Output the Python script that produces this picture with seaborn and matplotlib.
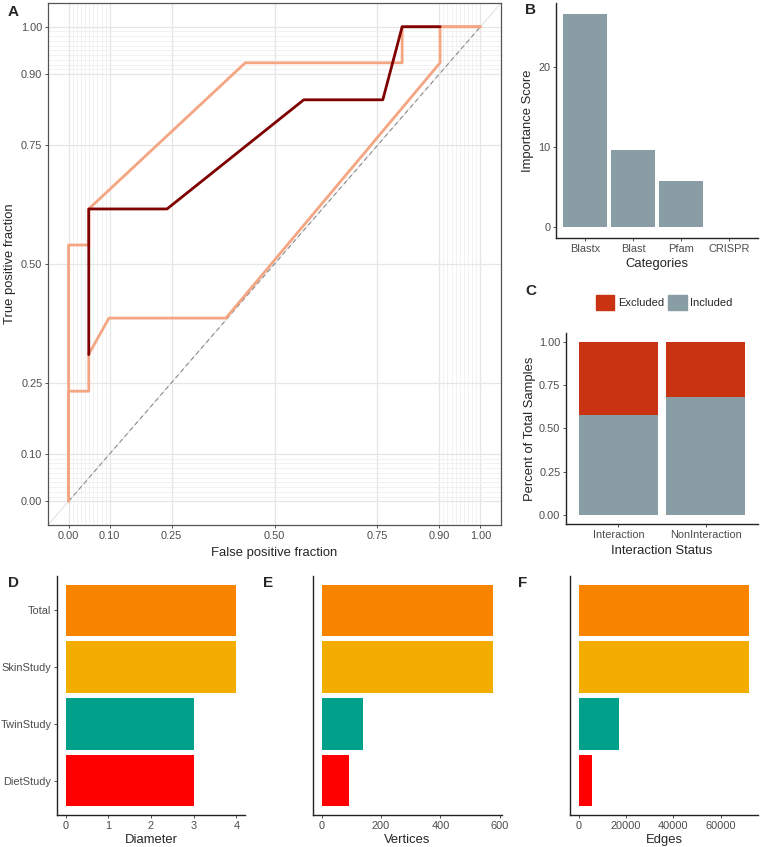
import numpy as np
import pandas as pd
import matplotlib
matplotlib.use("Agg")
import matplotlib.pyplot as plt
from matplotlib.patches import Patch
import seaborn as sns

# Panel A: ROC curve and its upper / lower bounds
roc_fpr = [0.049, 0.049, 0.239, 0.571, 0.763, 0.81, 0.902]
roc_tpr = [0.309, 0.616, 0.616, 0.846, 0.846, 1.0, 1.0]
upper_fpr = [0.0, 0.0, 0.049, 0.049, 0.429, 0.81, 0.81, 1.0]
upper_tpr = [0.0, 0.54, 0.54, 0.616, 0.924, 0.924, 1.0, 1.0]
lower_fpr = [0.0, 0.0, 0.049, 0.049, 0.098, 0.382, 0.902, 0.902, 1.0]
lower_tpr = [0.0, 0.232, 0.232, 0.31, 0.386, 0.386, 0.924, 1.0, 1.0]
roc_breaks = [0, 0.1, 0.25, 0.5, 0.75, 0.9, 1.0]
roc_labels = ["0.00", "0.10", "0.25", "0.50", "0.75", "0.90", "1.00"]

# Panel B: importance scores
categories = ["Blastx", "Blast", "Pfam", "CRISPR"]
importance = [26.6, 9.6, 5.8, 0.08]

# Panel C: sample status
status = ["Interaction", "NonInteraction"]
included = [0.578, 0.684]
excluded = [0.422, 0.316]

# Panels D-F: network stats per study
studies = ["Total", "SkinStudy", "TwinStudy", "DietStudy"]
diameter = [4, 4, 3, 3]
vertices = [578, 575, 139, 92]
edges = [72000, 71700, 17100, 5600]
study_colors = ["#F98400", "#F2AD00", "#00A08A", "#FF0000"]

grey_blue = "#899DA4"
red = "#C93312"
dark_red = "#7F0000"
salmon = "#F4A582"

sns.set_theme(style="white")
plt.rcParams["font.family"] = ["Liberation Sans", "DejaVu Sans"]
plt.rcParams["xtick.color"] = "#333333"
plt.rcParams["ytick.color"] = "#333333"
plt.rcParams["xtick.labelcolor"] = "#4D4D4D"
plt.rcParams["ytick.labelcolor"] = "#4D4D4D"

W, H = 760, 847
fig = plt.figure(figsize=(W / 100, H / 100), dpi=100)


def px_axes(left, top, right, bottom):
    return fig.add_axes([left / W, 1 - bottom / H, (right - left) / W, (bottom - top) / H])


def style_ticks(ax):
    ax.tick_params(axis="both", which="major", labelsize=7.9, length=2.5, width=0.6,
                   pad=1.5, bottom=True, left=True)


def classic(ax):
    for s in ["top", "right"]:
        ax.spines[s].set_visible(False)
    for s in ["left", "bottom"]:
        ax.spines[s].set_color("#222222")
        ax.spines[s].set_linewidth(1.0)
    style_ticks(ax)


# ---- A: ROC ----
axA = px_axes(48, 3, 501, 525)
minor = list(np.arange(0, 0.1, 0.01)) + list(np.arange(0.91, 1.0, 0.01))
axA.set_xticks(minor, minor=True)
axA.set_yticks(minor, minor=True)
axA.grid(which="minor", color="#EDEDED", lw=0.5)
axA.grid(which="major", color="#E6E6E6", lw=0.9)
axA.set_axisbelow(True)
axA.axline((0, 0), (1, 1), color="#DADADA", lw=0.6, zorder=1)
axA.plot([0, 1], [0, 1], ls=(0, (4, 3)), color="#8C8C8C", lw=0.8, zorder=1.5)
sns.lineplot(x=upper_fpr, y=upper_tpr, sort=False, estimator=None, color=salmon, lw=2, ax=axA)
sns.lineplot(x=lower_fpr, y=lower_tpr, sort=False, estimator=None, color=salmon, lw=2, ax=axA)
sns.lineplot(x=roc_fpr, y=roc_tpr, sort=False, estimator=None, color=dark_red, lw=2, ax=axA)
axA.set_xlim(-0.05, 1.05)
axA.set_ylim(-0.05, 1.05)
axA.set_xticks(roc_breaks, roc_labels)
axA.set_yticks(roc_breaks, roc_labels)
axA.tick_params(which="minor", length=0)
style_ticks(axA)
for s in axA.spines.values():
    s.set_color("#555555")
    s.set_linewidth(0.9)
axA.set_xlabel("False positive fraction", fontsize=9.4, labelpad=4.5)
axA.set_ylabel("True positive fraction", fontsize=9.4, labelpad=4)

# ---- B: importance ----
axB = px_axes(556, 3, 758, 238)
sns.barplot(x=categories, y=importance, color=grey_blue, saturation=1, width=0.9,
            linewidth=0, ax=axB)
axB.set_xlim(-0.6, 3.6)
axB.set_ylim(-0.05 * max(importance), 1.05 * max(importance))
axB.set_yticks([0, 10, 20])
classic(axB)
axB.set_xlabel("Categories", fontsize=9.4, labelpad=3.5)
axB.set_ylabel("Importance Score", fontsize=9.4, labelpad=3)

# ---- C: stacked proportions ----
axC = px_axes(566, 333, 758, 524)
totals = [a + b for a, b in zip(included, excluded)]
sns.barplot(x=status, y=totals, color=red, saturation=1, width=0.9, linewidth=0, ax=axC)
sns.barplot(x=status, y=included, color=grey_blue, saturation=1, width=0.9, linewidth=0, ax=axC)
axC.set_xlim(-0.6, 1.6)
axC.set_ylim(-0.05, 1.05)
axC.set_yticks([0, 0.25, 0.5, 0.75, 1.0], ["0.00", "0.25", "0.50", "0.75", "1.00"])
classic(axC)
axC.set_xlabel("Interaction Status", fontsize=9.4, labelpad=4)
axC.set_ylabel("Percent of Total Samples", fontsize=9.4, labelpad=2)
axC.legend(handles=[Patch(color=red, label="Excluded"), Patch(color=grey_blue, label="Included")],
           loc="center", bbox_to_anchor=(0.51, 1.162), ncol=2, frameon=False,
           fontsize=8, handlelength=1.7, handleheight=1.7, handletextpad=0.3,
           columnspacing=0.35, borderaxespad=0)

# ---- D-F: network bars ----
bottom_panels = [
    (57, 245, diameter, "Diameter", [0, 1, 2, 3, 4]),
    (313, 502, vertices, "Vertices", [0, 200, 400, 600]),
    (570, 758, edges, "Edges", [0, 20000, 40000, 60000]),
]
for i, (l, r, vals, lab, ticks) in enumerate(bottom_panels):
    ax = px_axes(l, 576, r, 815)
    sns.barplot(x=vals, y=studies, hue=studies, palette=study_colors, saturation=1,
                width=0.9, linewidth=0, orient="h", legend=False, ax=ax)
    ax.set_xlim(-0.05 * max(vals), 1.05 * max(vals))
    ax.set_ylim(3.6, -0.6)
    ax.set_xticks(ticks)
    classic(ax)
    ax.set_xlabel(lab, fontsize=9.4, labelpad=2.5)
    ax.set_ylabel("")
    if i > 0:
        ax.tick_params(axis="y", left=False, labelleft=False)

# panel letters
for letter, x, y in [("A", 8, 12), ("B", 525, 10), ("C", 525, 291),
                     ("D", 8, 583), ("E", 263, 583), ("F", 518, 583)]:
    fig.text(x / W, 1 - y / H, letter, fontsize=11, fontweight="bold", va="center", ha="left")

fig.savefig("out.png", dpi=100)
